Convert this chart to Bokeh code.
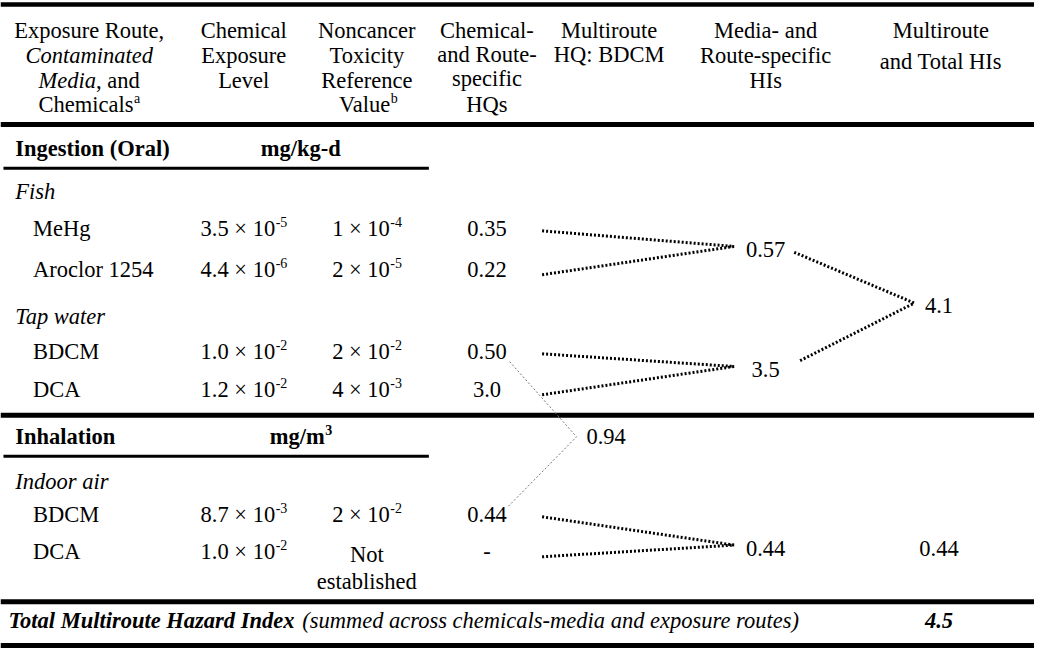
from bokeh.plotting import figure
from bokeh.models import Range1d
from bokeh.core.properties import value
from bokeh.embed import file_html
from bokeh.resources import INLINE

# ---------------- data ----------------
header_lines = [
    ["Exposure Route,", "Contaminated", "Media, and", "Chemicals"],
    ["Chemical", "Exposure", "Level"],
    ["Noncancer", "Toxicity", "Reference", "Value"],
    ["Chemical-", "and Route-", "specific", "HQs"],
    ["Multiroute", "HQ: BDCM"],
    ["Media- and", "Route-specific", "HIs"],
    ["Multiroute", "and Total HIs"],
]
routes = ["Ingestion (Oral)", "Inhalation"]
route_units = ["mg/kg-d", "mg/m"]
route_unit_sup = ["", "3"]
media = ["Fish", "Tap water", "Indoor air"]
chemicals = ["MeHg", "Aroclor 1254", "BDCM", "DCA", "BDCM", "DCA"]
exposure_mant = ["3.5", "4.4", "1.0", "1.2", "8.7", "1.0"]
exposure_exp = ["-5", "-6", "-2", "-2", "-3", "-2"]
rfv_mant = ["1", "2", "2", "4", "2", None]
rfv_exp = ["-4", "-5", "-2", "-3", "-2", None]
hq = ["0.35", "0.22", "0.50", "3.0", "0.44", "-"]
media_hi = ["0.57", "3.5", "0.44"]
route_hi = ["4.1", "0.44"]
multiroute_hq_bdcm = "0.94"
total_hi = "4.5"
total_label = "Total Multiroute Hazard Index"
total_note = "(summed across chemicals-media and exposure routes)"

# ---------------- layout ----------------
W, H = 1034, 650
SX = 1050 / W
FS = 22.5
SUP = 14.0
col_x = [90, 247, 372, 494, 618, 777, 955]
head_y = [[31, 56, 82, 107], [31, 56, 82], [31, 56, 82, 107], [31, 55, 80, 107],
          [31, 55], [31, 56, 82], [31, 62]]
route_y = [152, 447]
media_y = [196, 324, 493]
chem_y = [234, 276, 360, 399, 527, 565]
chem_media = [0, 0, 1, 1, 2, 2]
media_route = [0, 0, 1]
mhi_y = [255, 378, 561]
rhi_y = [313, 561]
mhi_x, rhi_x = 777, 953
X_LEFT, X_CHEM = 15, 33

REG = {' ': 250, '(': 333, ')': 333, '-': 333, '.': 250, ',': 250, ':': 278, '/': 278, '\u00d7': 564,
       'A': 722, 'B': 667, 'C': 667, 'D': 722, 'E': 611, 'H': 722, 'I': 333, 'M': 889, 'N': 722,
       'Q': 722, 'R': 667, 'T': 611, 'V': 722, 'a': 444, 'b': 500, 'c': 444, 'd': 500, 'e': 444,
       'f': 333, 'g': 500, 'h': 500, 'i': 278, 'k': 500, 'l': 278, 'm': 778, 'n': 500, 'o': 500,
       'p': 500, 'r': 333, 's': 389, 't': 278, 'u': 500, 'v': 500, 'w': 722, 'x': 500, 'y': 500, 'z': 444}
BOLD = dict(REG, **{'m': 833, 'g': 500, '/': 278})
ITAL = dict(REG, **{'M': 833, 'a': 500, 'd': 500, 'e': 444, 'i': 278})
BI = dict(REG, **{'T': 611, 'o': 500, 't': 278, 'a': 500, 'l': 278, 'M': 889, 'u': 556, 'i': 278,
                  'r': 389, 'e': 444, 'H': 778, 'z': 389, 'd': 500, 'I': 389, 'n': 556, 'x': 500})
for d in range(10):
    for tab in (REG, BOLD, ITAL, BI):
        tab[str(d)] = 500


def width(s, size, tab=REG):
    return sum(tab.get(c, 500) for c in s) / 1000.0 * size * SX


groups = {}


def T(x, y, s, style="normal", size=FS, align="center", color="black"):
    key = (style, size, align, color)
    g = groups.setdefault(key, {"x": [], "y": [], "t": []})
    g["x"].append(x)
    g["y"].append(y)
    g["t"].append(s)


def with_sup(cx, y, main, sup, style="normal", tab=REG):
    w1 = width(main, FS, tab)
    w2 = width(sup, SUP, tab)
    anchor = cx - (w1 + w2) / 2 + w1
    T(anchor, y, main, style, FS, "right")
    T(anchor + 0.5, y - 7, sup, style, SUP, "left")


p = figure(width=W, height=H, x_range=Range1d(0, 1050), y_range=Range1d(666, 0),
           output_backend="svg", toolbar_location=None, min_border=0)
p.axis.visible = False
p.grid.visible = False
p.outline_line_color = None

# rules
for yy, lw in [(4, 4.5), (127, 5), (425, 5), (616, 5), (661, 5)]:
    p.line([0, 1050], [yy, yy], line_color="black", line_width=lw)
for yy in [172, 467]:
    p.line([3, 435], [yy, yy], line_color="black", line_width=3)

# header
for ci, lines in enumerate(header_lines):
    for li, s in enumerate(lines):
        y = head_y[ci][li]
        if ci == 0 and li == 1:
            T(col_x[0], y, s, "italic")
        elif ci == 0 and li == 2:
            a, b = "Media", ", and"
            w1, w2 = width(a, FS, ITAL), width(b, FS)
            left = col_x[0] - (w1 + w2) / 2
            T(left, y, a, "italic", align="left")
            T(left + w1, y, b, align="left")
        elif ci == 0 and li == 3:
            with_sup(col_x[0], y, s, "a")
        elif ci == 2 and li == 3:
            with_sup(col_x[2], y, s, "b")
        else:
            T(col_x[ci], y, s)

# route headers
unit_x = 305
for ri, r in enumerate(routes):
    T(X_LEFT, route_y[ri], r, "bold", align="left")
    if route_unit_sup[ri]:
        with_sup(unit_x, route_y[ri], route_units[ri], route_unit_sup[ri], "bold", BOLD)
    else:
        T(unit_x, route_y[ri], route_units[ri], "bold")

for mi, m in enumerate(media):
    T(X_LEFT, media_y[mi], m, "italic", align="left")

for i, c in enumerate(chemicals):
    y = chem_y[i]
    T(X_CHEM, y, c, align="left")
    with_sup(col_x[1], y, exposure_mant[i] + " \u00d7 10", exposure_exp[i])
    if rfv_mant[i] is not None:
        with_sup(col_x[2], y, rfv_mant[i] + " \u00d7 10", rfv_exp[i])
    else:
        T(col_x[2], y + 3, "Not")
        T(col_x[2], y + 30, "established")
    T(col_x[3], y, hq[i])

# media HIs and route HIs
for mi, v in enumerate(media_hi):
    T(mhi_x, mhi_y[mi], v)
for ri, v in enumerate(route_hi):
    T(rhi_x, rhi_y[ri], v)

# dotted connectors chem HQ -> media HI
xs, ys = [], []
for i in range(len(chemicals)):
    mi = chem_media[i]
    xs.append([550, 745])
    ys.append([chem_y[i] + (2 if i % 2 == 0 else 5), mhi_y[mi] - 3])
# media HI -> route HI (only where a route has several media)
for mi in range(len(media)):
    ri = media_route[mi]
    if media_route.count(ri) > 1:
        first = media_route.index(ri) == mi
        xs.append([806 if first else 812, 928])
        ys.append([mhi_y[mi] + (3 if first else -9), rhi_y[ri] - 3])
p.multi_line(xs, ys, line_color="black", line_width=3, line_dash="2 2")

# multiroute BDCM link (thin grey)
bd = [i for i, c in enumerate(chemicals) if c == "BDCM"]
vx, vy = 585, 447
p.line([517, vx, 515], [chem_y[bd[0]] + 10, vy, chem_y[bd[1]] - 8],
       line_color="#777777", line_width=1, line_dash="2 2")
T(vx + 10, vy, multiroute_hq_bdcm, align="left")

# total row
ty = 635
wb = width(total_label, FS, BI)
T(8, ty, total_label, "bold italic", align="left")
T(8 + wb + width(" ", FS), ty, total_note, "italic", align="left")
T(rhi_x, ty, total_hi, "bold italic")

for (style, size, align, color), g in groups.items():
    p.text(x=g["x"], y=g["y"], text=g["t"], text_font=value("Liberation Serif"),
           text_font_size=value(f"{size}px"), text_font_style=style, text_align=align,
           text_baseline="middle", text_color=color)

open("out.html", "w").write(file_html(p, INLINE))
